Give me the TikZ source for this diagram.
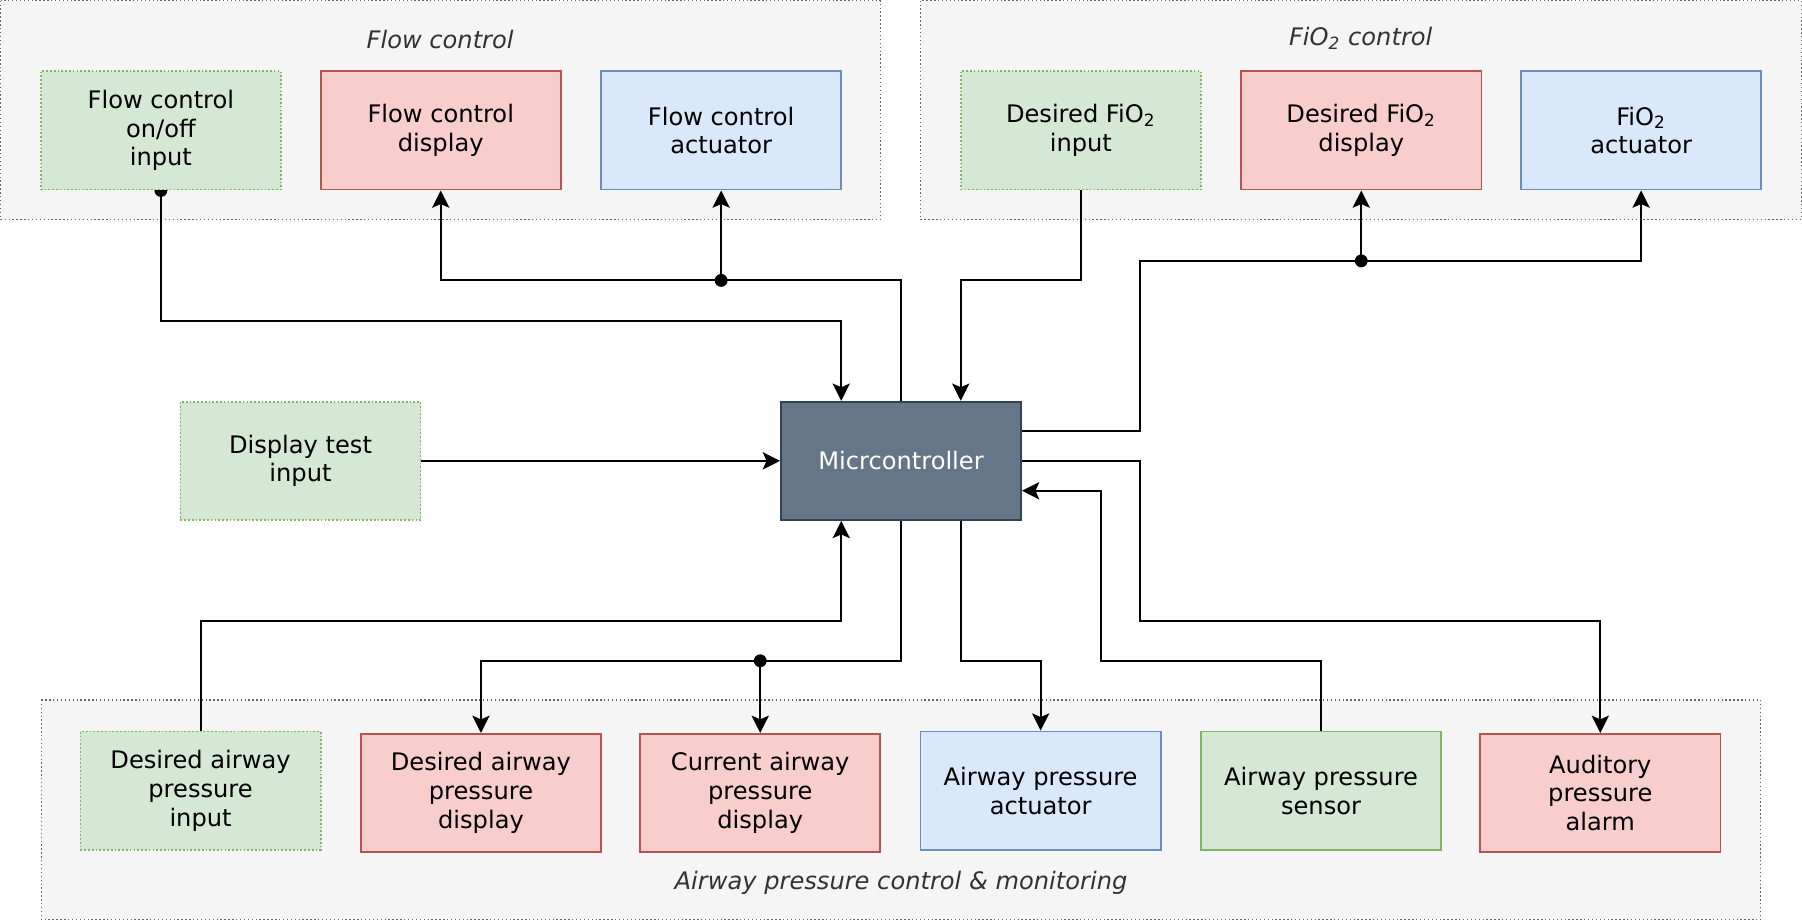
\documentclass[tikz,border=0pt]{standalone}
\usepackage{fontspec}
\setmainfont{DejaVu Sans}
\usetikzlibrary{arrows.meta}
\definecolor{grpfill}{HTML}{F5F5F5}
\definecolor{grpline}{HTML}{666666}
\definecolor{gfill}{HTML}{D5E8D4}\definecolor{gline}{HTML}{82B366}
\definecolor{rfill}{HTML}{F8CECC}\definecolor{rline}{HTML}{B85450}
\definecolor{bfill}{HTML}{DAE8FC}\definecolor{bline}{HTML}{6C8EBF}
\definecolor{mfill}{HTML}{647687}\definecolor{mline}{HTML}{314354}
\definecolor{ttl}{HTML}{333333}
\pgfdeclarelayer{grp}\pgfdeclarelayer{edg}
\pgfsetlayers{grp,edg,main}
\begin{document}
\begin{tikzpicture}[x=0.5pt,y=-0.5pt,font=\fontsize{10.5}{12.5}\selectfont,
  box/.style={minimum width=104.5pt,minimum height=51.5pt,inner sep=0pt,align=center,line width=0.75pt},
  inbox/.style={box,fill=gfill,draw=gline,dash pattern=on 0.75pt off 0.9pt},
  sensbox/.style={box,fill=gfill,draw=gline},
  dispbox/.style={box,fill=rfill,draw=rline},
  actbox/.style={box,fill=bfill,draw=bline},
  mcubox/.style={box,fill=mfill,draw=mline,text=white},
  grpbox/.style={fill=grpfill,draw=grpline,line width=0.6pt,dash pattern=on 0.6pt off 1.1pt},
  grptitle/.style={text=ttl,font=\fontsize{10.5}{12.5}\selectfont\itshape},
  conn/.style={draw=black,line width=0.85pt},
  arr/.style={conn,-{Stealth[length=7.5pt,width=7.5pt,inset=1.6pt]}},
  jdot/.style={fill=black}]
\useasboundingbox (0,0) rectangle (1568,802);
% groups
\begin{pgfonlayer}{grp}
\draw[grpbox] (0.6,0.6) rectangle (766,191);
\draw[grpbox] (801,0.6) rectangle (1567.4,191);
\draw[grpbox] (36,609) rectangle (1532,800);
\end{pgfonlayer}
\node[grptitle] (t1) at (383,34) {Flow control};
\node[grptitle] (t2) at (1184,33) {FiO\textsubscript{2} control};
\node[grptitle] (t3) at (784,768) {Airway pressure control \& monitoring};
% nodes
\node[inbox]   (fcin)    at (140,113.5)   {Flow control\\on/off\\input};
\node[dispbox] (fcdisp)  at (383.5,113.5) {Flow control\\display};
\node[actbox]  (fcact)   at (627.5,113.5) {Flow control\\actuator};
\node[inbox]   (fioin)   at (940.5,113.5) {Desired FiO\textsubscript{2}\\input};
\node[dispbox] (fiodisp) at (1184.5,113.5){Desired FiO\textsubscript{2}\\display};
\node[actbox]  (fioact)  at (1428,113.5)  {FiO\textsubscript{2}\\actuator};
\node[inbox]   (dtest)   at (261.5,401)   {Display test\\input};
\node[mcubox]  (mcu)     at (784,401)     {Micrcontroller};
\node[inbox]   (apin)    at (174.5,688)   {Desired airway\\pressure\\input};
\node[dispbox] (apdisp)  at (418.5,690)   {Desired airway\\pressure\\display};
\node[dispbox] (curdisp) at (661.5,690)   {Current airway\\pressure\\display};
\node[actbox]  (apact)   at (905.5,688)   {Airway pressure\\actuator};
\node[sensbox] (apsens)  at (1149.5,688)  {Airway pressure\\sensor};
\node[dispbox] (alarm)   at (1392.5,690)  {Auditory\\pressure\\alarm};
\coordinate (j1) at (627.5,244);
\coordinate (j2) at (1184.5,227);
\coordinate (j3) at (661.5,575);
% connectors
\begin{pgfonlayer}{edg}
\fill[jdot] (fcin.south) circle (2.8pt);
\draw[arr] (fcin.south) -- (140,279) -| ([xshift=-26pt]mcu.north);
\draw[arr] (mcu.north) -- (784,244) -- (383.5,244) -- (fcdisp.south);
\draw[arr] (j1) -- (fcact.south);
\fill[jdot] (j1) circle (2.8pt);
\draw[arr] (fioin.south) -- (940.5,244) -| ([xshift=26pt]mcu.north);
\draw[arr] ([yshift=13pt]mcu.east) -| (992,227) -| (fioact.south);
\draw[arr] (j2) -- (fiodisp.south);
\fill[jdot] (j2) circle (2.8pt);
\draw[arr] (dtest.east) -- (mcu.west);
\draw[arr] (mcu.east) -| (992,540) -| (alarm.north);
\draw[arr] (apsens.north) |- (958,575) |- ([yshift=-13pt]mcu.east);
\draw[arr] ([xshift=26pt]mcu.south) -- (836,575) -| (apact.north);
\draw[arr] (mcu.south) -- (784,575) -| (apdisp.north);
\draw[arr] (j3) -- (curdisp.north);
\fill[jdot] (j3) circle (2.8pt);
\draw[arr] (apin.north) -- (174.5,540) -| ([xshift=-26pt]mcu.south);
\end{pgfonlayer}
\end{tikzpicture}
\end{document}
